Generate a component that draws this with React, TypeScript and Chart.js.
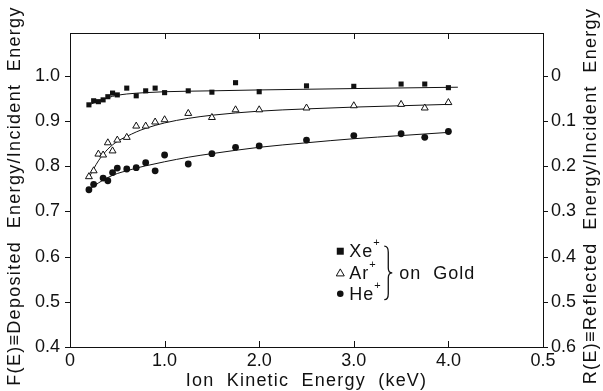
import React, { useEffect, useRef } from "react";
import { Chart, registerables } from "chart.js";
Chart.register(...registerables);

// ---- data ----
const energies = [0.2, 0.25, 0.3, 0.35, 0.4, 0.45, 0.5, 0.6, 0.7, 0.8, 0.9, 1.0, 1.25, 1.5, 1.75, 2.0, 2.5, 3.0, 3.5, 3.75, 4.0];
const xeValues = [0.936, 0.945, 0.943, 0.947, 0.954, 0.962, 0.958, 0.973, 0.956, 0.967, 0.973, 0.963, 0.967, 0.964, 0.985, 0.965, 0.978, 0.977, 0.982, 0.982, 0.974];
const arValues = [0.777, 0.790, 0.827, 0.825, 0.852, 0.834, 0.858, 0.864, 0.889, 0.889, 0.898, 0.903, 0.917, 0.908, 0.925, 0.925, 0.929, 0.934, 0.937, 0.929, 0.941];
const heEnergies = [0.2, 0.25, 0.35, 0.4, 0.45, 0.5, 0.6, 0.7, 0.8, 0.9, 1.0, 1.25, 1.5, 1.75, 2.0, 2.5, 3.0, 3.5, 3.75, 4.0];
const heValues = [0.748, 0.760, 0.774, 0.768, 0.786, 0.796, 0.794, 0.797, 0.808, 0.790, 0.825, 0.805, 0.828, 0.842, 0.845, 0.858, 0.868, 0.872, 0.864, 0.877];

// fitted curves
const xeFitE = [0.2, 0.3, 0.4, 0.5, 0.6, 0.8, 1.0, 1.5, 2.0, 3.0, 4.1];
const xeFitF = [0.936, 0.944, 0.952, 0.957, 0.960, 0.963, 0.965, 0.967, 0.969, 0.972, 0.975];
const arFitE = [0.2, 0.3, 0.4, 0.5, 0.6, 0.7, 0.8, 1.0, 1.25, 1.5, 2.0, 2.5, 3.0, 3.5, 4.0];
const arFitF = [0.775, 0.812, 0.838, 0.855, 0.866, 0.876, 0.884, 0.896, 0.906, 0.913, 0.922, 0.927, 0.931, 0.934, 0.937];
const heFitE = [0.2, 0.3, 0.4, 0.5, 0.6, 0.7, 0.8, 1.0, 1.25, 1.5, 2.0, 2.5, 3.0, 3.5, 4.0];
const heFitF = [0.748, 0.763, 0.775, 0.784, 0.790, 0.796, 0.801, 0.810, 0.820, 0.828, 0.842, 0.852, 0.861, 0.868, 0.875];

const xTicks = [0, 1, 2, 3, 4, 5];
const xTickLabels = ["0", "1.0", "2.0", "3.0", "4.0", "0.5"];
const yTicks = [0.4, 0.5, 0.6, 0.7, 0.8, 0.9, 1.0];
const yTickLabels = ["0.4", "0.5", "0.6", "0.7", "0.8", "0.9", "1.0"];
const rTicks = [0, 0.1, 0.2, 0.3, 0.4, 0.5, 0.6];
const rTickLabels = ["0", "0.1", "0.2", "0.3", "0.4", "0.5", "0.6"];
const innerXTicks = [1, 2, 3, 4];

const xTitle = "Ion  Kinetic  Energy  (keV)";
const leftTitle = "F(E)\u2261Deposited  Energy/Incident  Energy";
const rightTitle = "R(E)\u2261Reflected  Energy/Incident  Energy";
const legendNames = ["Xe", "Ar", "He"];
const legendNote = "on  Gold";

const FONT = "'Liberation Sans', Arial, Helvetica, sans-serif";
const INK = "#111";

const pts = (xs: number[], ys: number[]) => xs.map((x, i) => ({ x, y: ys[i] }));

const framePlugin = {
  id: "frame",
  afterDraw(chart: any) {
    const { ctx, chartArea: a, scales } = chart;
    const x = scales.x, y = scales.y, y2 = scales.y2;
    ctx.save();
    ctx.strokeStyle = INK;
    ctx.lineWidth = 1;
    ctx.strokeRect(a.left + 0.5, a.top + 0.5, a.right - a.left, a.bottom - a.top);
    ctx.beginPath();
    innerXTicks.forEach((v) => {
      const px = Math.round(x.getPixelForValue(v)) + 0.5;
      ctx.moveTo(px, a.bottom); ctx.lineTo(px, a.bottom - 6);
      ctx.moveTo(px, a.top); ctx.lineTo(px, a.top + 6);
    });
    yTicks.forEach((v) => {
      const py = Math.round(y.getPixelForValue(v)) + 0.5;
      ctx.moveTo(a.left, py); ctx.lineTo(a.left - 5, py);
    });
    rTicks.forEach((v) => {
      const py = Math.round(y2.getPixelForValue(v)) + 0.5;
      ctx.moveTo(a.right, py); ctx.lineTo(a.right + 5, py);
    });
    ctx.stroke();

    // axis titles
    ctx.fillStyle = INK;
    ctx.font = `18px ${FONT}`;
    ctx.textAlign = "center";
    ctx.textBaseline = "middle";
    (ctx as any).letterSpacing = "1.2px";
    ctx.fillText(xTitle, (a.left + a.right) / 2, chart.height - 10);
    (ctx as any).letterSpacing = "1.3px";
    const midY = (a.top + a.bottom) / 2 + 6;
    ctx.save();
    ctx.translate(15, midY);
    ctx.rotate(-Math.PI / 2);
    ctx.fillText(leftTitle, 0, 0);
    ctx.restore();
    ctx.save();
    ctx.translate(chart.width - 12, midY);
    ctx.rotate(-Math.PI / 2);
    ctx.fillText(rightTitle, 0, 0);
    ctx.restore();
    ctx.restore();

    // legend
    ctx.save();
    ctx.fillStyle = INK;
    ctx.strokeStyle = INK;
    const lx = x.getPixelForValue(2.857);
    const rows = [y.getPixelForValue(0.612), y.getPixelForValue(0.564), y.getPixelForValue(0.518)];
    ctx.fillRect(lx - 3.5, rows[0] - 3.5, 7, 7);
    ctx.lineWidth = 1;
    ctx.beginPath();
    ctx.moveTo(lx, rows[1] - 4);
    ctx.lineTo(lx + 4, rows[1] + 3);
    ctx.lineTo(lx - 4, rows[1] + 3);
    ctx.closePath();
    ctx.stroke();
    ctx.beginPath();
    ctx.arc(lx, rows[2], 3.3, 0, Math.PI * 2);
    ctx.fill();
    ctx.textAlign = "left";
    ctx.textBaseline = "middle";
    (ctx as any).letterSpacing = "1px";
    legendNames.forEach((n, i) => {
      ctx.font = `18px ${FONT}`;
      ctx.fillText(n, lx + 9, rows[i] + 1);
      const w = ctx.measureText(n).width;
      ctx.font = `11px ${FONT}`;
      ctx.fillText("+", lx + 9 + w, rows[i] - 8);
    });
    const bx = lx + 47;
    const top = rows[0] - 5, bot = rows[2] + 6, mid = (top + bot) / 2;
    ctx.lineWidth = 1.3;
    ctx.beginPath();
    ctx.moveTo(bx - 3, top);
    ctx.quadraticCurveTo(bx + 1, top, bx + 1, top + 6);
    ctx.lineTo(bx + 1, mid - 5);
    ctx.quadraticCurveTo(bx + 1, mid, bx + 5, mid);
    ctx.quadraticCurveTo(bx + 1, mid, bx + 1, mid + 5);
    ctx.lineTo(bx + 1, bot - 6);
    ctx.quadraticCurveTo(bx + 1, bot, bx - 3, bot);
    ctx.stroke();
    ctx.font = `18px ${FONT}`;
    ctx.fillText(legendNote, bx + 12, mid + 1);
    ctx.restore();
  },
};

export default function App() {
  const ref = useRef<HTMLCanvasElement>(null);
  useEffect(() => {
    document.body.style.margin = "0";
    const font = { family: FONT, size: 18 };
    const chart = new Chart(ref.current!, {
      type: "scatter",
      data: {
        datasets: [
          {
            label: "Xe+", data: pts(energies, xeValues), pointStyle: "rect",
            pointRadius: 3.6, backgroundColor: INK, borderColor: INK, borderWidth: 0, showLine: false,
          },
          {
            label: "Ar+", data: pts(energies, arValues), pointStyle: "triangle",
            pointRadius: 4, backgroundColor: "#fff", borderColor: INK, borderWidth: 1, showLine: false,
          },
          {
            label: "He+", data: pts(heEnergies, heValues), pointStyle: "circle",
            pointRadius: 3.4, backgroundColor: INK, borderColor: INK, borderWidth: 0, showLine: false,
          },
          {
            label: "Xe fit", data: pts(xeFitE, xeFitF), showLine: true, pointRadius: 0,
            borderColor: INK, borderWidth: 1, cubicInterpolationMode: "monotone",
          },
          {
            label: "Ar fit", data: pts(arFitE, arFitF), showLine: true, pointRadius: 0,
            borderColor: INK, borderWidth: 1, cubicInterpolationMode: "monotone",
          },
          {
            label: "He fit", data: pts(heFitE, heFitF), showLine: true, pointRadius: 0,
            borderColor: INK, borderWidth: 1, cubicInterpolationMode: "monotone",
          },
        ] as any,
      },
      options: {
        responsive: false,
        animation: false,
        layout: { padding: { top: 33, left: 0, right: 0, bottom: 0 } },
        plugins: { legend: { display: false }, tooltip: { enabled: false } },
        scales: {
          x: {
            type: "linear", min: 0, max: 5,
            afterBuildTicks: (s: any) => { s.ticks = xTicks.map((v) => ({ value: v })); },
            afterFit: (s: any) => { s.height = 44; },
            grid: { display: false, drawTicks: false }, border: { display: false },
            ticks: {
              callback: (_v: any, i: number) => xTickLabels[i], padding: 3, font, color: INK,
              maxRotation: 0, autoSkip: false,
            },
          },
          y: {
            type: "linear", position: "left", min: 0.4, max: 1.095,
            afterBuildTicks: (s: any) => { s.ticks = yTicks.map((v) => ({ value: v })); },
            afterFit: (s: any) => { s.width = 70; },
            grid: { display: false, drawTicks: false }, border: { display: false },
            ticks: { callback: (_v: any, i: number) => yTickLabels[i], padding: 10, font, color: INK, autoSkip: false },
          },
          y2: {
            type: "linear", position: "right", min: -0.095, max: 0.6, reverse: true,
            afterBuildTicks: (s: any) => { s.ticks = rTicks.map((v) => ({ value: v })); },
            afterFit: (s: any) => { s.width = 60; },
            grid: { display: false, drawTicks: false }, border: { display: false },
            ticks: { callback: (_v: any, i: number) => rTickLabels[i], padding: 8, font, color: INK, autoSkip: false },
          },
        },
      } as any,
      plugins: [framePlugin],
    });
    return () => chart.destroy();
  }, []);
  return <canvas ref={ref} width={603} height={391} style={{ display: "block" }} />;
}
